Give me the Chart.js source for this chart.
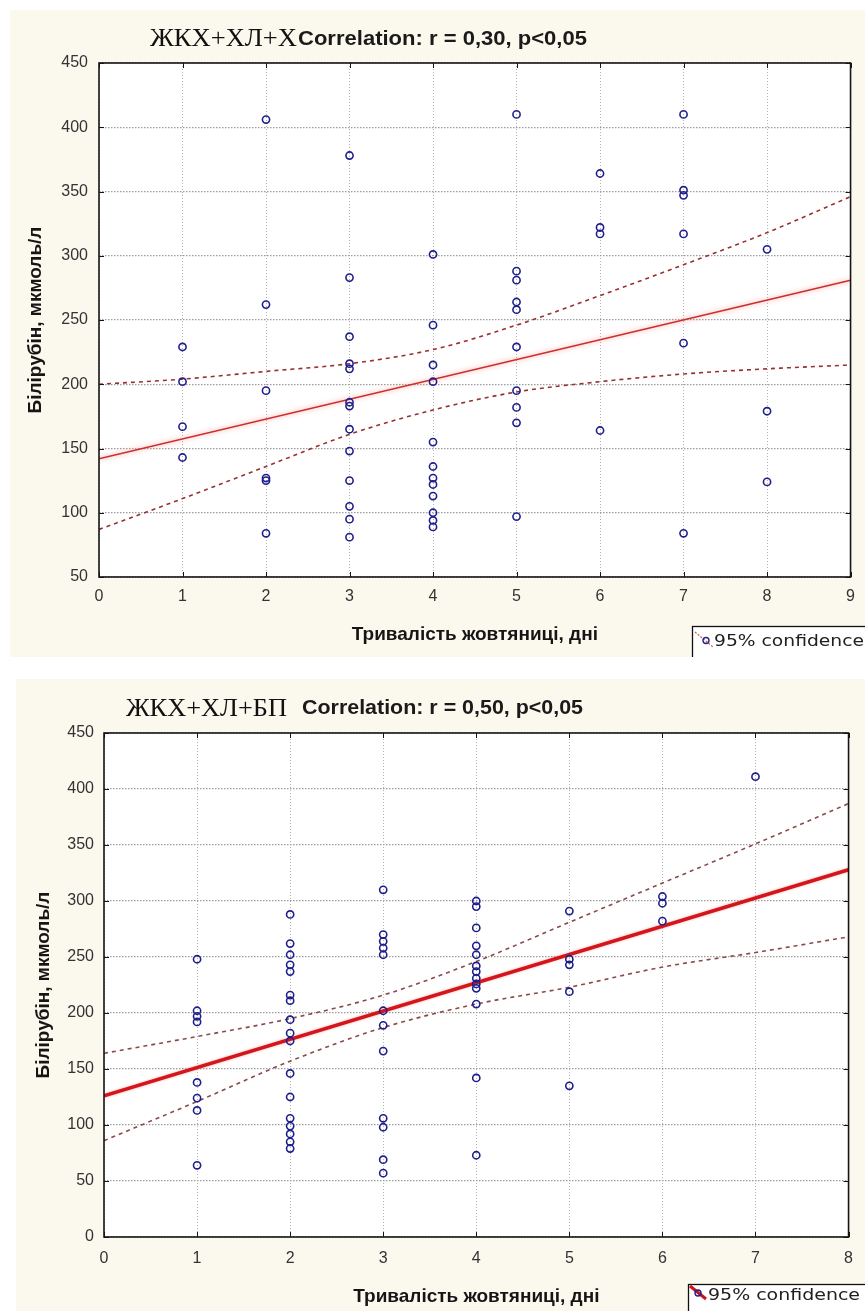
<!DOCTYPE html>
<html lang="uk">
<head>
<meta charset="utf-8">
<title>Білірубін і тривалість жовтяниці</title>
<script src="https://cdn.jsdelivr.net/npm/chart.js@4.4.1/dist/chart.umd.min.js"></script>
<style>
  html, body { margin: 0; padding: 0; background: #ffffff; }
  body { position: relative; width: 865px; height: 1311px; overflow: hidden; }
  .panel { position: absolute; background: #fbf8ee; overflow: hidden; }
  #panelA { left: 10px; top: 10px; width: 855px; height: 647px; }
  #panelB { left: 16px; top: 679px; width: 849px; height: 632px; }
  canvas { display: block; }
</style>
</head>
<body>
<div class="panel" id="panelA"><canvas id="chartA" width="855" height="647"></canvas></div>
<div class="panel" id="panelB"><canvas id="chartB" width="849" height="632"></canvas></div>
<script>
// ---- Group ЖКХ+ХЛ+Х: jaundice duration (days) vs bilirubin (мкмоль/л) ----
const daysA = [
  1, 1, 1, 1,
  2, 2, 2, 2, 2, 2,
  3, 3, 3, 3, 3, 3, 3, 3, 3, 3, 3, 3, 3,
  4, 4, 4, 4, 4, 4, 4, 4, 4, 4, 4, 4,
  5, 5, 5, 5, 5, 5, 5, 5, 5, 5,
  6, 6, 6, 6,
  7, 7, 7, 7, 7, 7,
  8, 8, 8
];
const bilirubinA = [
  229, 202, 167, 143,
  406, 262, 195, 127, 125, 84,
  378, 283, 237, 216, 212, 186, 183, 165, 148, 125, 105, 95, 81,
  301, 246, 215, 202, 155, 136, 127, 122, 113, 100, 94, 89,
  410, 288, 281, 264, 258, 229, 195, 182, 170, 97,
  364, 322, 317, 164,
  410, 351, 347, 317, 232, 84,
  305, 179, 124
];
const fitDaysA = [0, 9];
const fitA = [142, 281];
const bandDaysA = [0, 1, 2, 3, 4, 5, 6, 7, 8, 9];
const bandUpperA = [200, 204, 210, 216, 227, 246, 269, 293, 318, 346];
const bandLowerA = [87, 111, 136, 161, 180, 194, 202, 208, 212, 215];
const xRangeA = [0, 9];
const yRangeA = [50, 450];

// ---- Group ЖКХ+ХЛ+БП ----
const daysB = [
  1, 1, 1, 1, 1, 1, 1, 1,
  2, 2, 2, 2, 2, 2, 2, 2, 2, 2, 2, 2, 2, 2, 2, 2, 2,
  3, 3, 3, 3, 3, 3, 3, 3, 3, 3, 3, 3,
  4, 4, 4, 4, 4, 4, 4, 4, 4, 4, 4, 4, 4,
  5, 5, 5, 5, 5,
  6, 6, 6,
  7
];
const bilirubinB = [
  248, 202, 197, 192, 138, 124, 113, 64,
  288, 262, 252, 243, 237, 216, 211, 194, 182, 175, 146, 125, 106, 99, 92, 85, 79,
  310, 270, 264, 258, 252, 202, 189, 166, 106, 98, 69, 57,
  300, 295, 276, 260, 252, 242, 237, 231, 226, 222, 208, 142, 73,
  291, 248, 243, 219, 135,
  304, 298, 282,
  411
];
const fitDaysB = [0, 8];
const fitB = [126, 328];
const bandDaysB = [0, 1, 2, 3, 4, 5, 6, 7, 8];
const bandUpperB = [164, 179, 195, 216, 246, 281, 316, 351, 387];
const bandLowerB = [86, 121, 157, 187, 208, 223, 241, 254, 268];
const xRangeB = [0, 8];
const yRangeB = [0, 450];

const xTitle = 'Тривалість жовтяниці, дні';
const yTitle = 'Білірубін, мкмоль/л';
const keyText = '95% confidence';

const SANS = "'Liberation Sans', Arial, sans-serif";
Chart.defaults.font.family = SANS;

const pair = (xs, ys) => xs.map((x, i) => ({ x: x, y: ys[i] }));

// White plot area, black frame and short inward tick marks on all four sides
const plotFrame = {
  id: 'plotFrame',
  beforeDraw(chart) {
    const { ctx, chartArea: a } = chart;
    ctx.save();
    ctx.fillStyle = '#ffffff';
    ctx.fillRect(a.left, a.top, a.right - a.left, a.bottom - a.top);
    ctx.restore();
  },
  afterDatasetsDraw(chart) {
    const { ctx, chartArea: a, scales } = chart;
    ctx.save();
    ctx.strokeStyle = '#161616';
    ctx.lineWidth = 1;
    ctx.beginPath();
    scales.x.ticks.forEach(t => {
      const p = Math.round(scales.x.getPixelForValue(t.value)) + 0.5;
      ctx.moveTo(p, a.top); ctx.lineTo(p, a.top + 5);
      ctx.moveTo(p, a.bottom); ctx.lineTo(p, a.bottom - 5);
    });
    scales.y.ticks.forEach(t => {
      const p = Math.round(scales.y.getPixelForValue(t.value)) + 0.5;
      ctx.moveTo(a.left, p); ctx.lineTo(a.left + 5, p);
      ctx.moveTo(a.right, p); ctx.lineTo(a.right - 5, p);
    });
    ctx.stroke();
    ctx.lineWidth = 1.6;
    ctx.strokeRect(a.left, a.top, a.right - a.left, a.bottom - a.top);
    ctx.restore();
  }
};

// Two-part heading: group name in serif, correlation summary in bold sans
function makeHeading(parts) {
  return {
    id: 'heading',
    afterDraw(chart) {
      const ctx = chart.ctx;
      parts.forEach(p => {
        ctx.save();
        ctx.font = p.font;
        ctx.fillStyle = p.color;
        ctx.textBaseline = 'alphabetic';
        const w = ctx.measureText(p.text).width;
        ctx.translate(p.x, p.y);
        ctx.scale(p.width / w, 1);
        ctx.fillText(p.text, 0, 0);
        ctx.restore();
      });
    }
  };
}

// Legend box in the lower right corner; it runs off the edge of the panel
function makeKey(k) {
  return {
    id: 'key',
    afterDraw(chart) {
      const ctx = chart.ctx;
      ctx.save();
      ctx.fillStyle = '#ffffff';
      ctx.fillRect(k.x, k.y, 400, 100);
      ctx.strokeStyle = '#111111';
      ctx.lineWidth = 1.3;
      ctx.strokeRect(k.x + 0.5, k.y + 0.5, 400, 100);
      ctx.strokeStyle = k.lineColor;
      ctx.lineWidth = k.lineWidth;
      ctx.setLineDash(k.dash);
      ctx.beginPath();
      ctx.moveTo(k.x + k.l0[0], k.y + k.l0[1]);
      ctx.lineTo(k.x + k.l1[0], k.y + k.l1[1]);
      ctx.stroke();
      ctx.setLineDash([]);
      ctx.strokeStyle = '#23238c';
      ctx.lineWidth = 1.4;
      ctx.beginPath();
      ctx.arc(k.x + k.c[0], k.y + k.c[1], 3, 0, Math.PI * 2);
      ctx.stroke();
      ctx.font = "15px 'DejaVu Sans', sans-serif";
      ctx.fillStyle = '#202020';
      const w = ctx.measureText(keyText).width;
      ctx.translate(k.x + k.tx, k.y + k.ty);
      ctx.scale(k.tw / w, 1);
      ctx.fillText(keyText, 0, 0);
      ctx.restore();
    }
  };
}

// Soft halo behind one dataset's line
function makeGlow(index, color, blur) {
  return {
    id: 'glow',
    beforeDatasetDraw(chart, args) {
      if (args.index === index) {
        chart.ctx.save();
        chart.ctx.shadowColor = color;
        chart.ctx.shadowBlur = blur;
      }
    },
    afterDatasetDraw(chart, args) {
      if (args.index === index) chart.ctx.restore();
    }
  };
}

function buildChart(id, d) {
  return new Chart(document.getElementById(id), {
    type: 'scatter',
    data: {
      datasets: [
        {
          label: 'Білірубін',
          data: pair(d.days, d.bili),
          pointStyle: 'circle',
          pointRadius: 3.6,
          pointBorderWidth: 1.6,
          borderColor: '#1f1f8c',
          backgroundColor: 'rgba(0,0,0,0)',
          order: 0
        },
        {
          type: 'line',
          label: 'Regression',
          data: pair(d.fitDays, d.fit),
          showLine: true,
          borderColor: d.fitColor,
          borderWidth: d.fitWidth,
          pointRadius: 0,
          fill: false,
          order: 1
        },
        {
          type: 'line',
          label: keyText,
          data: pair(d.bandDays, d.upper),
          showLine: true,
          borderColor: d.bandColor,
          borderWidth: 1.6,
          borderDash: [4, 4],
          cubicInterpolationMode: 'monotone',
          pointRadius: 0,
          fill: false,
          order: 2
        },
        {
          type: 'line',
          label: keyText,
          data: pair(d.bandDays, d.lower),
          showLine: true,
          borderColor: d.bandColor,
          borderWidth: 1.6,
          borderDash: [4, 4],
          cubicInterpolationMode: 'monotone',
          pointRadius: 0,
          fill: false,
          order: 3
        }
      ]
    },
    options: {
      responsive: false,
      animation: false,
      devicePixelRatio: 1,
      layout: { padding: { left: 0, top: d.top, right: d.right, bottom: 0 } },
      plugins: { legend: { display: false }, tooltip: { enabled: false } },
      scales: {
        x: {
          type: 'linear',
          min: d.xRange[0],
          max: d.xRange[1],
          afterFit(s) { s.height = d.xHeight; },
          ticks: { stepSize: 1, padding: d.xTickPad, color: '#333333', font: { size: 16 } },
          grid: { color: '#b4b4b4', lineWidth: 1, drawTicks: false },
          border: { display: false, dash: [1, 2] },
          title: {
            display: true, text: xTitle, color: '#151515',
            font: { size: 19, weight: 'bold' },
            padding: { top: 0, bottom: d.xTitlePad }
          }
        },
        y: {
          type: 'linear',
          min: d.yRange[0],
          max: d.yRange[1],
          afterFit(s) { s.width = d.yWidth; },
          ticks: { stepSize: 50, padding: d.yTickPad, color: '#333333', font: { size: 16 } },
          grid: { color: '#9c9c9c', lineWidth: 1.3, drawTicks: false },
          border: { display: false, dash: [1.5, 1.5] },
          title: {
            display: true, text: yTitle, color: '#151515',
            font: { size: 19, weight: 'bold' },
            padding: { top: d.yTitlePad, bottom: 0 }
          }
        }
      }
    },
    plugins: [plotFrame, makeHeading(d.heading), makeKey(d.key), makeGlow(1, d.glow, d.glowBlur)]
  });
}

buildChart('chartA', {
  days: daysA, bili: bilirubinA,
  fitDays: fitDaysA, fit: fitA,
  bandDays: bandDaysA, upper: bandUpperA, lower: bandLowerA,
  xRange: xRangeA, yRange: yRangeA,
  fitColor: '#c8302e', fitWidth: 1.6, bandColor: '#9a2f2f',
  glow: 'rgba(255,110,110,0.75)', glowBlur: 5,
  top: 53, right: 6, xHeight: 80, yWidth: 89,
  xTickPad: 10, xTitlePad: 11, yTickPad: 11, yTitlePad: 14,
  heading: [
    { text: 'ЖКХ+ХЛ+Х', font: "25px 'Liberation Serif', serif", color: '#111111', x: 140, y: 35.7, width: 147 },
    { text: 'Correlation: r = 0,30, p<0,05', font: "bold 21px 'Liberation Sans', sans-serif", color: '#1a1a1a', x: 288, y: 34.5, width: 289 }
  ],
  key: { x: 682, y: 616, lineColor: '#d05a5a', lineWidth: 1.2, dash: [2, 1.5], l0: [3, 6], l1: [21, 21], c: [14, 14.5], tx: 22, ty: 20, tw: 150 }
});

buildChart('chartB', {
  days: daysB, bili: bilirubinB,
  fitDays: fitDaysB, fit: fitB,
  bandDays: bandDaysB, upper: bandUpperB, lower: bandLowerB,
  xRange: xRangeB, yRange: yRangeB,
  fitColor: '#d2161b', fitWidth: 3.6, bandColor: '#8a4a4a',
  glow: 'rgba(255,80,80,0.45)', glowBlur: 3,
  top: 54, right: 14, xHeight: 74, yWidth: 88,
  xTickPad: 12, xTitlePad: 3, yTickPad: 10, yTitlePad: 16,
  heading: [
    { text: 'ЖКХ+ХЛ+БП', font: "26px 'Liberation Serif', serif", color: '#111111', x: 110, y: 36.7, width: 161 },
    { text: 'Correlation: r = 0,50, p<0,05', font: "bold 21px 'Liberation Sans', sans-serif", color: '#1a1a1a', x: 286, y: 35, width: 281 }
  ],
  key: { x: 672, y: 605, lineColor: '#c8141c', lineWidth: 3, dash: [], l0: [2, 2], l1: [18, 15], c: [10, 9], tx: 20, ty: 16, tw: 152 }
});
</script>
</body>
</html>
